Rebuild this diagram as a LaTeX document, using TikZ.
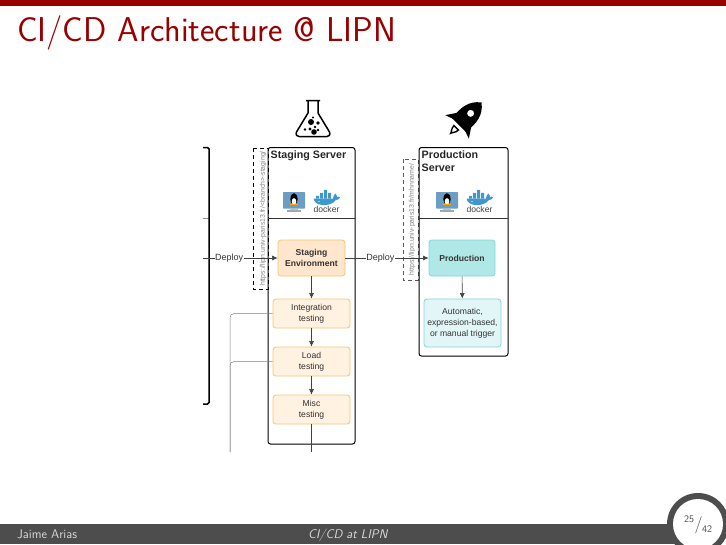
\documentclass[tikz,border=0pt]{standalone}
\usepackage{fontspec}
\setmainfont{Liberation Sans}
\usetikzlibrary{arrows.meta}
\definecolor{barred}{HTML}{990000}
\definecolor{footgray}{HTML}{4D4D4D}
\definecolor{orangefill}{HTML}{FFE6CC}
\definecolor{orangeline}{HTML}{F5C56E}
\definecolor{paleorange}{HTML}{FFF2E0}
\definecolor{tealfill}{HTML}{B0E8E8}
\definecolor{tealline}{HTML}{7FD6D6}
\definecolor{paleteal}{HTML}{E2F6F8}
\definecolor{whale}{HTML}{3F97CC}
\definecolor{screen}{HTML}{6C9DC4}
\tikzset{
  serverbox/.style={draw=black,line width=1pt,rounded corners=2.5pt,fill=white},
  stepbox/.style={rounded corners=3pt,line width=0.8pt,align=center,font=\fontsize{8.6}{10.8}\selectfont,text=black!80,inner sep=0pt,anchor=center},
  orangebig/.style={stepbox,draw=orangeline,fill=orangefill,minimum width=67pt,minimum height=36pt},
  orangesmall/.style={stepbox,draw=orangeline,fill=paleorange,minimum width=77pt,minimum height=29pt},
  tealbig/.style={stepbox,draw=tealline,fill=tealfill,minimum width=66pt,minimum height=36pt},
  tealsmall/.style={stepbox,draw=tealline,fill=paleteal,minimum width=77pt,minimum height=48pt},
  flow/.style={draw=black!75,line width=0.6pt,-{Latex[length=5.5pt,width=5pt]}},
  plainflow/.style={draw=black!75,line width=0.6pt},
  feedback/.style={draw=black!50,line width=0.5pt,rounded corners=4pt},
  dashbox/.style={draw=black,dashed,line width=0.8pt,dash pattern=on 4pt off 3pt},
  urltext/.style={rotate=90,font=\fontsize{6.9}{7}\selectfont,text=black!50,inner sep=0pt},
  servertitle/.style={font=\fontsize{10.7}{13}\selectfont\bfseries,text=black!85,align=left,inner sep=0pt,anchor=north west},
  deploylabel/.style={fill=white,font=\fontsize{9}{10}\selectfont,text=black!80,inner sep=0.4pt},
  linuxpic/.pic={
    \fill[black!25] (-4,7) rectangle (4,9);
    \fill[black!35] (-7,8.6) rectangle (7,10);
    \fill[screen,rounded corners=0.6pt] (-11,-9.5) rectangle (11,7);
    \fill[black] (0,-2.5) ellipse (3.6 and 5.8);
    \fill[white] (0,0) ellipse (2.3 and 3.4);
    \fill[orange!70!yellow] (-3.6,3.6) rectangle (3.6,2.6);
  },
  dockerpic/.pic={
    \fill[whale] (-12.5,-3) -- (7,-3) .. controls (7,-5) and (8,-7) .. (9.5,-8) .. controls (10.5,-7) and (11,-5.5) .. (11,-4.5) .. controls (12,-5) and (13.5,-5) .. (14,-4) .. controls (13,-2) and (11,-1.5) .. (10,-1.5) .. controls (7,3) and (0,4) .. (-4,3.5) .. controls (-9,3) and (-12,0.5) .. (-12.5,-3) -- cycle;
    \fill[whale] (-10,-5.7) rectangle (-7,-3) (-6,-5.7) rectangle (-3,-3) (-2,-5.7) rectangle (1,-3) (2,-5.7) rectangle (5,-3) (-6,-8.7) rectangle (-3,-6) (-2,-8.7) rectangle (1,-6) (2,-8.7) rectangle (5,-6) (-2,-11.7) rectangle (1,-9);
    \fill[white] (-7,0) circle (0.7);
    \node[font=\fontsize{8.6}{9}\selectfont,text=black!75,inner sep=0pt] at (0.5,8) {docker};
  }
}
\begin{document}
\begin{tikzpicture}[x=1pt,y=-1pt]
\useasboundingbox (0,0) rectangle (726,544);
% frame
\fill[barred] (0,0) rectangle (726,6);
\node[anchor=base west,inner sep=0pt,text=barred,font=\fontsize{34.4}{36}\selectfont\sffamily] (title) at (17,41) {CI/CD Architecture @ LIPN};
\fill[footgray] (0,523.5) rectangle (680,544);
\fill[footgray] (698,524) circle (31);
\fill[white] (698,524) circle (25);
\node[anchor=base west,inner sep=0pt,text=black!15,font=\fontsize{12.6}{14}\selectfont\sffamily] (author) at (17,538.5) {Jaime Arias};
\node[anchor=base west,inner sep=0pt,text=black!15,font=\fontsize{12.6}{14}\selectfont\sffamily\itshape] (talk) at (308,538.5) {CI/CD at LIPN};
\node[anchor=base west,inner sep=0pt,text=black!70,font=\fontsize{10}{10}\selectfont\sffamily] (pg) at (684,522) {25};
\node[anchor=center,inner sep=0pt,text=black!70,font=\fontsize{17}{18}\selectfont\sffamily] (sl) at (698.5,525) {/};
\node[anchor=base west,inner sep=0pt,text=black!70,font=\fontsize{10}{10}\selectfont\sffamily] (tot) at (702,532) {42};
% bracket
\coordinate (brTL) at (203,147.5);
\coordinate (brTR) at (209,147.5);
\coordinate (brBL) at (203,404);
\coordinate (brBR) at (209,404);
\coordinate (tickL) at (203,218.5);
\coordinate (tickR) at (209,218.5);
\coordinate (depL) at (203,258);
\draw[black!45,line width=0.5pt] (tickL) -- (tickR);
% dashed url boxes
\coordinate (dA) at (253,148); \coordinate (dB) at (268,289);
\coordinate (dC) at (403,159); \coordinate (dD) at (418,280);
\draw[dashbox] (dA) rectangle (dB);
\draw[dashbox,draw=black!65] (dC) rectangle (dD);
\node[urltext] (urlS) at (263,218.5) {https://lipn.univ-paris13.fr/<branch>-staging/};
\node[urltext] (urlP) at (412,219.5) {https://lipn.univ-paris13.fr/mhnname/};
% servers
\coordinate (sA) at (268,147.5); \coordinate (sB) at (355,444);
\coordinate (pA) at (419,147.5); \coordinate (pB) at (508,356);
\draw[serverbox,fill=none] (sA) rectangle (sB);
\draw[serverbox,fill=none] (pA) rectangle (pB);
\coordinate (sdL) at (268,218); \coordinate (sdR) at (355,218);
\coordinate (pdL) at (419,218); \coordinate (pdR) at (508,218);
\draw[black!80,line width=0.8pt] (sdL) -- (sdR);
\draw[black!80,line width=0.8pt] (pdL) -- (pdR);
\draw[black,line width=1.5pt,rounded corners=1.5pt] (brTL) -- (brTR) -- (brBR) -- (brBL);
\node[servertitle] (stitle) at (270.5,150.8) {Staging Server};
\node[servertitle] (ptitle) at (421.5,151) {Production\\Server};
% icons
\pic at (294,201.5) {linuxpic};
\pic at (326,201.5) {dockerpic};
\pic at (447,201.5) {linuxpic};
\pic at (479,201.5) {dockerpic};
% steps
\node[orangebig] (env) at (311.5,258) {\bfseries Staging\\\bfseries Environment};
\node[orangesmall] (integ) at (311.5,313.5) {Integration\\testing};
\node[orangesmall] (load) at (311.5,361.5) {Load\\testing};
\node[orangesmall] (misc) at (311.5,409.5) {Misc\\testing};
\node[tealbig] (prod) at (462,258) {\bfseries Production};
\node[tealsmall] (auto) at (462.5,323) {Automatic,\\expression-based,\\or manual trigger};
\coordinate (miscEnd) at (311.5,452);
\coordinate (fbEnd) at (230,452);
\draw[flow] (env) -- (integ);
\draw[flow] (integ) -- (load);
\draw[flow] (load) -- (misc);
\draw[plainflow] (misc) -- (miscEnd);
\draw[flow] (prod) -- (auto);
\draw[feedback] (integ.west) -| (fbEnd);
\draw[feedback] (load.west) -| (fbEnd);
\draw[flow] (depL) -- node[deploylabel,pos=0.35] (dep1) {Deploy} (env.west);
\draw[flow] (env.east) -- node[deploylabel,pos=0.42] (dep2) {Deploy} (prod.west);
% flask
\draw[black,line width=1.5pt,line join=round,fill=white] (306,100.5) -- (320,100.5) (308,100.5) -- (308,113) -- (296.5,132) .. controls (295.5,135) and (297,136.5) .. (299,136.5) -- (327,136.5) .. controls (329,136.5) and (330.5,135) .. (329.5,132) -- (318,113) -- (318,100.5);
\fill[black] (311,122) circle (3) (318,123) circle (1.8) (315,127) circle (1.4) (314,132) circle (2.8) (305,129.5) circle (1.4) (310,129) circle (1.7) (318,130) circle (1.3) (313,117.5) circle (1.2);
% rocket
\begin{scope}[shift={(462.5,121.5)},rotate=-45,scale=1.28]
\fill[black,even odd rule] (0,-21) .. controls (8,-15) and (9,-7) .. (7.5,4) -- (-7.5,4) .. controls (-9,-7) and (-8,-15) .. (0,-21) -- cycle (0,-9) circle (2.8);
\fill[black] (-7,-3) -- (-13,6) -- (-6,3.5) -- cycle (7,-3) -- (13,6) -- (6,3.5) -- cycle;
\draw[black,line width=1.4pt,fill=white] (-2.5,7) .. controls (-2.5,10) and (0,12) .. (0,13) .. controls (0,12) and (2.5,10) .. (2.5,7) -- cycle;
\end{scope}
\end{tikzpicture}
\end{document}
